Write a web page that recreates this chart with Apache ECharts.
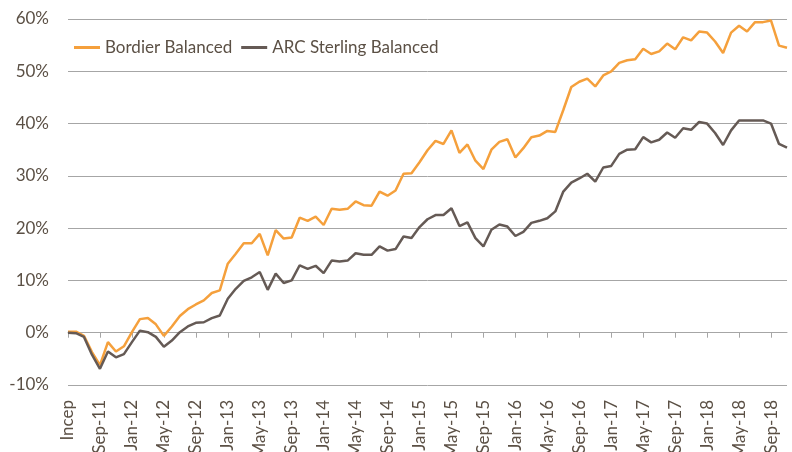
<!DOCTYPE html>
<html>
<head>
<meta charset="utf-8">
<script src="https://cdn.jsdelivr.net/npm/echarts@6/dist/echarts.min.js"></script>
<style>
  html, body { margin: 0; padding: 0; background: #fff; }
  #chart { width: 792px; height: 452px; }
</style>
</head>
<body>
<div id="chart"></div>
<script>
// monthly points, Incep (May-11) .. Nov-18
const MONTHS = ['Jan', 'Feb', 'Mar', 'Apr', 'May', 'Jun', 'Jul', 'Aug', 'Sep', 'Oct', 'Nov', 'Dec'];
const categories = ['Incep'];
for (let y = 11; y <= 18; y++) {
  for (let m = 0; m < 12; m++) {
    if (y === 11 && m < 5) continue;
    if (y === 18 && m > 10) continue;
    categories.push(MONTHS[m] + '-' + y);
  }
}

const bordier = [
  0.2, 0.2, -0.6, -3.7, -6.2, -1.8, -3.6, -2.6, 0.1, 2.6,
  2.8, 1.6, -0.6, 1.2, 3.2, 4.5, 5.4, 6.2, 7.6, 8.1,
  13.2, 15.1, 17.1, 17.1, 18.9, 14.8, 19.6, 18.0, 18.2, 22.0,
  21.4, 22.2, 20.6, 23.7, 23.5, 23.7, 25.1, 24.4, 24.3, 27.0,
  26.2, 27.2, 30.4, 30.5, 32.6, 34.9, 36.7, 36.1, 38.7, 34.4,
  36.0, 32.9, 31.3, 35.0, 36.5, 37.0, 33.5, 35.3, 37.4, 37.7,
  38.6, 38.4, 42.6, 47.0, 48.0, 48.6, 47.1, 49.2, 50.0, 51.6,
  52.1, 52.3, 54.3, 53.3, 53.8, 55.3, 54.2, 56.5, 55.9, 57.6,
  57.4, 55.7, 53.5, 57.4, 58.7, 57.6, 59.4, 59.4, 59.7, 54.9,
  54.5
];

const arcSterling = [
  0.0, -0.1, -0.8, -4.2, -6.9, -3.6, -4.7, -4.1, -1.8, 0.4,
  0.1, -0.8, -2.7, -1.5, 0.1, 1.2, 1.9, 2.0, 2.8, 3.3,
  6.5, 8.4, 9.9, 10.6, 11.6, 8.2, 11.3, 9.5, 10.0, 12.9,
  12.2, 12.8, 11.4, 13.8, 13.6, 13.8, 15.2, 14.9, 14.9, 16.5,
  15.7, 16.0, 18.4, 18.1, 20.2, 21.7, 22.5, 22.5, 23.8, 20.4,
  21.1, 18.1, 16.5, 19.7, 20.7, 20.3, 18.5, 19.3, 21.0, 21.4,
  21.9, 23.2, 27.0, 28.7, 29.5, 30.4, 28.9, 31.6, 31.9, 34.2,
  35.0, 35.1, 37.4, 36.4, 36.9, 38.3, 37.3, 39.1, 38.8, 40.3,
  40.0, 38.2, 35.9, 38.7, 40.6, 40.6, 40.6, 40.6, 40.0, 36.1,
  35.4
];

const TEXT = '#5b5045';
const GRID = '#a6a6a6';
const FONT = 'Lato';

const chart = echarts.init(document.getElementById('chart'));
chart.setOption({
  animation: false,
  textStyle: { fontFamily: FONT },
  grid: { left: 68, right: 5, top: 19, bottom: 67, outerBoundsMode: 'none', containLabel: false },
  legend: {
    left: 74, top: 39, padding: 0,
    icon: 'rect', itemWidth: 26, itemHeight: 3, itemGap: 9,
    textStyle: { color: TEXT, fontSize: 17, fontFamily: FONT },
    data: ['Bordier Balanced', 'ARC Sterling Balanced']
  },
  xAxis: [{
    // axis line sits on 0%, ticks every 4 months
    type: 'category', data: categories, boundaryGap: false,
    axisLine: { onZero: true, lineStyle: { color: GRID, width: 1 } },
    axisTick: { show: true, interval: 3, length: 5, lineStyle: { color: GRID } },
    axisLabel: { show: false }
  }, {
    // labels at the bottom
    type: 'category', data: categories, boundaryGap: false,
    position: 'bottom',
    axisLine: { show: false, onZero: false },
    axisTick: { show: false },
    axisLabel: { interval: 3, rotate: 90, margin: 15, color: TEXT, fontSize: 17, fontFamily: FONT }
  }],
  yAxis: {
    type: 'value', min: -10, max: 60, interval: 10,
    axisLine: { show: false }, axisTick: { show: false },
    axisLabel: { formatter: '{value}%', margin: 19, color: TEXT, fontSize: 17, fontFamily: FONT },
    splitLine: { lineStyle: { color: GRID, width: 1 } }
  },
  series: [{
    name: 'Bordier Balanced', type: 'line', data: bordier,
    symbol: 'none', color: '#f5a03c',
    lineStyle: { width: 2.5, color: '#f5a03c' }
  }, {
    name: 'ARC Sterling Balanced', type: 'line', data: arcSterling,
    symbol: 'none', color: '#655a55',
    lineStyle: { width: 2.5, color: '#655a55' }
  }]
});
</script>
</body>
</html>
